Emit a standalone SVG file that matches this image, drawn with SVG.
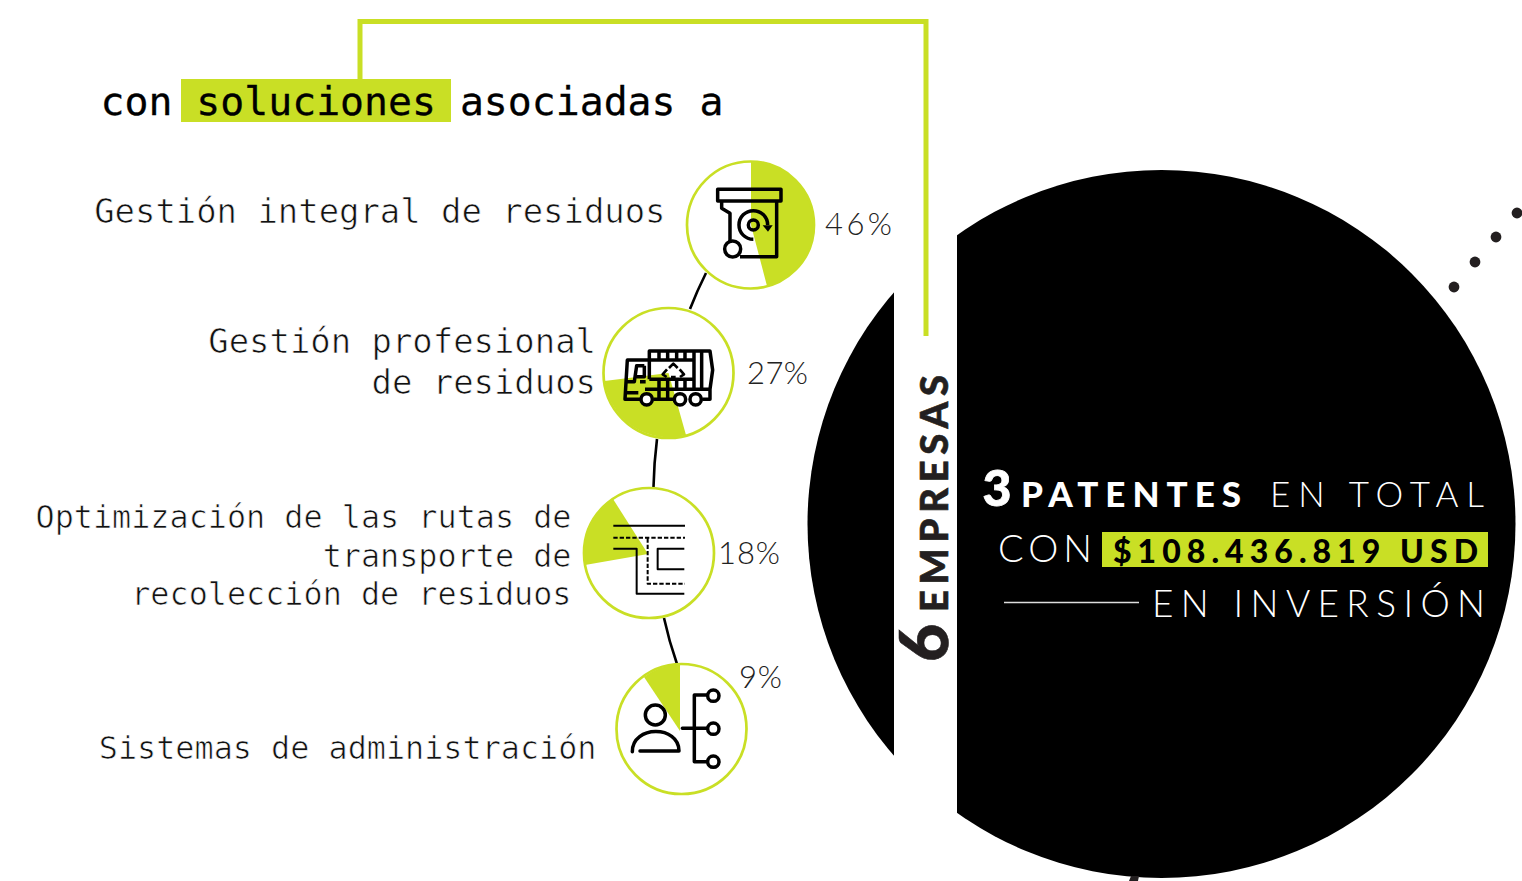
<svg xmlns="http://www.w3.org/2000/svg" width="1522" height="881" viewBox="0 0 1522 881">
<style>
.g{fill:#c9df25}
.ring{fill:none;stroke:#c9df25;stroke-width:2.700}
.link{fill:none;stroke:#000;stroke-width:2.600}
.ic{fill:none;stroke:#000;stroke-width:10.500;stroke-linejoin:round}
.icw{fill:#fff;stroke:#000;stroke-width:10.500}
.lab{font-family:"DejaVu Sans Mono",monospace;font-size:33.900px;fill:#111;stroke:#fff;stroke-width:.7;text-anchor:end}
.lab2{font-size:31.800px}
.head{font-family:"DejaVu Sans Mono",monospace;font-size:39.800px;fill:#000;stroke:#000;stroke-width:.3}
.pct{font-family:Lato,"Open Sans",sans-serif;font-weight:300;font-size:31px;fill:#222}
.lt{font-family:Lato,"Open Sans",sans-serif;font-weight:300;fill:#fff}
.bd{font-family:Lato,"Open Sans",sans-serif;font-weight:900}
</style>
<rect width="1522" height="881" fill="#fff"/>
<g id="big-circle">
<circle cx="1161.500" cy="524" r="354" fill="#000"/>
<rect x="894" y="0" width="63" height="881" fill="#fff"/>
<path d="M1129 881L1131 876H1139L1138 881Z" fill="#231f20"/>
</g>
<g id="dots" fill="#231f20">
<circle cx="1454" cy="287" r="5.400"/><circle cx="1475" cy="262" r="5.400"/><circle cx="1496" cy="237" r="5.400"/><circle cx="1517" cy="213" r="5.400"/>
</g>
<g id="connectors">
<path class="link" d="M706 273Q697 291 690 309"/>
<path class="link" d="M657 439Q654 463 653.500 487"/>
<path class="link" d="M664 618Q669 641 677 664"/>
<path d="M360 80V21.500H926V336" fill="none" stroke="#c9df25" stroke-width="5"/>
</g>
<g id="heading">
<rect class="g" x="181" y="79" width="270" height="43"/>
<text class="head" x="100.500" y="114.500">con  soluciones  asociadas a</text>
</g>
<g id="node-residuos">
<path class="g" d="M751 225V162A63 63 0 0 1 767 286Z"/>
<circle class="ring" cx="750.500" cy="225" r="63.500"/>
<g transform="translate(680 150) scale(.3333)">
<rect class="ic" x="113" y="118" width="190" height="35"/>
<path class="ic" d="M125 155V175L150 190V275M290 153V320H180"/>
<circle class="ic" cx="158" cy="297" r="24"/>
<circle class="ic" cx="220" cy="225" r="15"/>
<path class="ic" d="M220 268A43 43 0 1 1 263 225"/>
<path d="M248 226H278L264 245Z" fill="#000"/>
</g>
<text class="lab" x="665.500" y="223">Gestión integral de residuos</text>
<text class="pct" x="825" y="235" textLength="67">46%</text>
</g>
<g id="node-profesional">
<path class="g" d="M668.500 373L604.500 381A65 65 0 0 0 686 435Z"/>
<circle class="ring" cx="668.500" cy="373" r="65"/>
<g transform="translate(595 300) scale(.3333)">
<path class="ic" d="M163 238V153H345L353 210L345 268V298H322M163 180H297M297 153V268M320 153V268M192 153V180M218 153V180M245 153V180M270 153V180M163 238H297M150 268H345M192 238V298M218 238V298M245 238V268M270 238V268M175 298H235"/>
<path class="ic" d="M163 180H97L90 298H135M92 278H130M148 197H125L118 245H92M148 197V230H125M135 245H152"/>
<path class="ic" style="stroke-width:8" d="M222 204L235 191L248 204M216 208L203 223L215 231M254 208L267 223L255 231M228 231H242"/>
<circle class="icw" cx="155" cy="298" r="17"/><circle class="icw" cx="255" cy="298" r="17"/><circle class="icw" cx="302" cy="298" r="17"/>
</g>
<text class="lab" x="596" y="353">Gestión profesional</text>
<text class="lab" x="596" y="394">de residuos</text>
<text class="pct" x="747" y="384" textLength="61">27%</text>
</g>
<g id="node-rutas">
<path class="g" d="M648 554L613 499A65 65 0 0 0 585 565Z"/>
<circle class="ring" cx="649" cy="553" r="65"/>
<g transform="translate(575 480) scale(.3333)">
<path class="ic" style="stroke-width:6" d="M115 137H330M115 206H185V341H328M328 206H248V268H328"/>
<path class="ic" style="stroke-width:6" stroke-dasharray="13 6" d="M115 173H330M218 175V311H330"/>
</g>
<text class="lab lab2" x="571.500" y="528">Optimización de las rutas de</text>
<text class="lab lab2" x="571.500" y="567">transporte de</text>
<text class="lab lab2" x="571.500" y="605">recolección de residuos</text>
<text class="pct" x="718" y="564" textLength="62">18%</text>
</g>
<g id="node-sistemas">
<path class="g" d="M680 731V664A65 65 0 0 0 644 677Z"/>
<circle class="ring" cx="681.500" cy="729" r="65"/>
<g transform="translate(605 650) scale(.3333)" stroke-linecap="round">
<circle class="ic" cx="151" cy="195" r="30"/>
<path class="ic" d="M82 305C82 225 222 225 222 303H105"/>
<path class="ic" d="M305 135H268V335H305M232 235H305"/>
<circle class="ic" cx="325" cy="137" r="17"/><circle class="ic" cx="325" cy="236" r="17"/><circle class="ic" cx="325" cy="335" r="17"/>
</g>
<text class="lab lab2" x="596.500" y="759">Sistemas de administración</text>
<text class="pct" x="739" y="688" textLength="43">9%</text>
</g>
<g id="empresas" fill="#231f20" stroke="#231f20" stroke-width=".6">
<text class="bd" transform="translate(948 662) rotate(-90)" font-size="66">6</text>
<text class="bd" transform="translate(948 612) rotate(-90)" font-size="38" textLength="237">EMPRESAS</text>
</g>
<g id="patentes">
<text class="bd" x="982.500" y="506" font-size="50" fill="#fff" stroke="#fff" stroke-width=".8">3</text>
<text class="bd" x="1021" y="507" font-size="35" fill="#fff" textLength="220">PATENTES</text>
<text class="lt" x="1270" y="507" font-size="35" textLength="214">EN TOTAL</text>
<text class="lt" x="998" y="562" font-size="38" textLength="94">CON</text>
<rect class="g" x="1102" y="532" width="386" height="35"/>
<text class="bd" x="1113" y="563" font-size="32" fill="#000" textLength="365">$108.436.819 USD</text>
<path d="M1004 602.500H1139" stroke="#ddd" stroke-width="1.500"/>
<text class="lt" x="1152" y="617" font-size="37" textLength="333">EN INVERSIÓN</text>
</g>
</svg>
